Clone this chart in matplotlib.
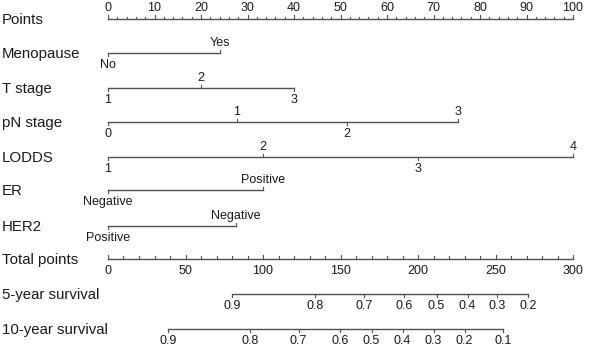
import numpy as np
import matplotlib.pyplot as plt

plt.rcParams['font.family'] = ['Liberation Sans', 'DejaVu Sans']

# row titles
row_names = ['Points', 'Menopause', 'T stage', 'pN stage', 'LODDS', 'ER', 'HER2',
             'Total points', '5-year survival', '10-year survival']

# predictor levels and their points (0-100 scale)
meno_labels = ['No', 'Yes']
meno_pts = [0, 24]
t_labels = ['1', '2', '3']
t_pts = [0, 20, 40]
pn_labels = ['0', '1', '2', '3']
pn_pts = [0, 27.7, 51.4, 75.3]
lodds_labels = ['1', '2', '3', '4']
lodds_pts = [0, 33.4, 66.7, 100]
er_labels = ['Negative', 'Positive']
er_pts = [0, 33.4]
her2_labels = ['Positive', 'Negative']
her2_pts = [0, 27.5]

# survival probabilities against total points (0-300)
surv5_labels = ['0.9', '0.8', '0.7', '0.6', '0.5', '0.4', '0.3', '0.2']
surv5_total = [80, 133.5, 165, 191, 212, 232, 251, 271]
surv10_labels = ['0.9', '0.8', '0.7', '0.6', '0.5', '0.4', '0.3', '0.2', '0.1']
surv10_total = [38.7, 91.6, 123, 149.7, 170, 190, 210, 230, 255]

LC = '#505050'
TC = '#1a1a1a'
FS_ROW = 10.8
FS_TICK = 9

fig = plt.figure(figsize=(6, 3.6), dpi=100)
ax = fig.add_axes([0, 0, 1, 1])
ax.set_xlim(-108 / 4.65, 492 / 4.65)
ax.set_ylim(360, 0)
ax.axis('off')

row_y = [19, 53, 88, 122, 157, 190, 226, 259, 294, 329]

for name, y in zip(row_names, row_y):
    ax.text(-108 / 4.65 + 2 / 4.65, y + 1, name, fontsize=FS_ROW, color=TC,
            ha='left', va='center')

# Points axis
y = row_y[0]
ax.plot([0, 100], [y, y], color=LC, lw=1)
for v in np.arange(0, 101, 2):
    L = 4.5 if v % 10 == 0 else 2.5
    ax.plot([v, v], [y, y - L], color=LC, lw=0.8)
for v in range(0, 101, 10):
    ax.text(v, y - 11, str(v), fontsize=FS_TICK, color=TC, ha='center', va='center')

# predictor scales
preds = [(meno_labels, meno_pts), (t_labels, t_pts), (pn_labels, pn_pts),
         (lodds_labels, lodds_pts), (er_labels, er_pts), (her2_labels, her2_pts)]
for (labs, pts), y in zip(preds, row_y[1:7]):
    ax.plot([min(pts), max(pts)], [y, y], color=LC, lw=1)
    for i, (lab, p) in enumerate(zip(labs, pts)):
        if i % 2 == 0:
            ax.plot([p, p], [y, y + 3], color=LC, lw=0.8)
            ax.text(p, y + 12, lab, fontsize=FS_TICK, color=TC, ha='center', va='center')
        else:
            ax.plot([p, p], [y, y - 3], color=LC, lw=0.8)
            ax.text(p, y - 10, lab, fontsize=FS_TICK, color=TC, ha='center', va='center')

# Total points axis (0-300 mapped onto 0-100)
y = row_y[7]
ax.plot([0, 100], [y, y], color=LC, lw=1)
for v in np.arange(0, 301, 10):
    L = 4.5 if v % 50 == 0 else 3
    ax.plot([v / 3, v / 3], [y, y - L], color=LC, lw=0.8)
for v in range(0, 301, 50):
    ax.text(v / 3, y + 12, str(v), fontsize=FS_TICK, color=TC, ha='center', va='center')

# survival scales
for labs, tot, y in [(surv5_labels, surv5_total, row_y[8]),
                     (surv10_labels, surv10_total, row_y[9])]:
    xs = np.array(tot) / 3
    ax.plot([xs.min(), xs.max()], [y, y], color=LC, lw=1)
    for lab, x in zip(labs, xs):
        ax.plot([x, x], [y, y + 3], color=LC, lw=0.8)
        ax.text(x, y + 12, lab, fontsize=FS_TICK, color=TC, ha='center', va='center')

fig.savefig('out.png', dpi=100)
